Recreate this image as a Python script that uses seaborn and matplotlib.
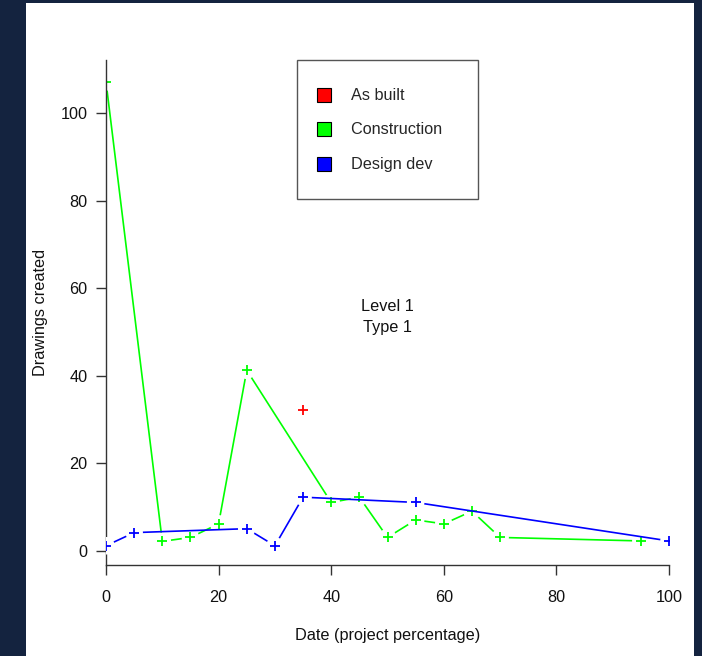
import matplotlib
matplotlib.use("Agg")
import matplotlib.pyplot as plt
import seaborn as sns
from matplotlib.patches import Patch, Rectangle
from matplotlib.legend_handler import HandlerPatch

# ---- data ----
design_x = [0, 5, 25, 30, 35, 55, 100]
design_y = [1.2, 4.2, 5.1, 1.2, 12.3, 11.1, 2.3]

constr_x = [0, 10, 15, 20, 25, 40, 45, 50, 55, 60, 65, 70, 95]
constr_y = [107.2, 2.2, 3.1, 6.2, 41.3, 11.1, 12.3, 3.1, 7.1, 6.2, 9.1, 3.1, 2.3]

built_x = [35]
built_y = [32.3]

series_names = ["As built", "Construction", "Design dev"]
series_colors = ["#ff0000", "#00ff00", "#0000ff"]

x_ticks = [0, 20, 40, 60, 80, 100]
y_ticks = [0, 20, 40, 60, 80, 100]

FS = 11.7

sns.set_style("white")
plt.rcParams["font.family"] = ["Liberation Sans", "DejaVu Sans"]

fig = plt.figure(figsize=(7.02, 6.56), dpi=100)
fig.patch.set_facecolor("#14233f")
fig.patches.append(Rectangle((26 / 702, 0), (694 - 26) / 702, 1 - 3 / 656,
                             transform=fig.transFigure, facecolor="white",
                             edgecolor="none", zorder=-10))

ax = fig.add_axes([106 / 702, 1 - 565 / 656, (669 - 106) / 702, (565 - 60) / 656])
ax.set_facecolor("white")

gap_s = 160
plus_s = 45

def draw_series(xs, ys, color, z, line=True):
    if line:
        sns.lineplot(x=xs, y=ys, color=color, linewidth=1.2, ax=ax,
                     estimator=None, sort=False, zorder=z)
        sns.scatterplot(x=xs, y=ys, marker="o", s=gap_s, color="white",
                        edgecolor="none", linewidth=0, ax=ax, zorder=z + 0.1)
    sns.scatterplot(x=xs, y=ys, marker="+", s=plus_s, color=color,
                    linewidth=1.3, ax=ax, zorder=z + 0.2)

draw_series(constr_x, constr_y, series_colors[1], 2)
draw_series(design_x, design_y, series_colors[2], 3)
draw_series(built_x, built_y, series_colors[0], 4, line=False)

ax.set_xlim(0, 100)
ax.set_ylim(-3.2, 112.2)
ax.set_xticks(x_ticks)
ax.set_yticks(y_ticks)
ax.set_xticklabels([str(t) for t in x_ticks], fontsize=FS)
ax.set_yticklabels([str(t) for t in y_ticks], fontsize=FS)
ax.tick_params(axis="both", direction="out", length=7.2, width=1.0,
               color="#333333", labelcolor="#111111", left=True, bottom=True)
ax.tick_params(axis="x", pad=10.5)
ax.tick_params(axis="y", pad=6)
for side in ["top", "right"]:
    ax.spines[side].set_visible(False)
for side in ["left", "bottom"]:
    ax.spines[side].set_color("#333333")
    ax.spines[side].set_linewidth(1.0)

ax.set_xlabel("Date (project percentage)", fontsize=FS, labelpad=17, color="#111111")
ax.set_ylabel("Drawings created", fontsize=FS, labelpad=9, color="#111111")

ax.text(50, 53.4, "Level 1\nType 1", ha="center", va="center", fontsize=FS,
        linespacing=1.5, color="#111111")

SQ = 14 * 72 / 100  # square side in points

def square_patch(legend, orig_handle, xdescent, ydescent, width, height, fontsize):
    cx = -xdescent + width / 2
    cy = -ydescent + height / 2
    return Rectangle((cx - SQ / 2, cy - SQ / 2), SQ, SQ)

handles = [Patch(facecolor=c, edgecolor="black", linewidth=0.8) for c in series_colors]
labels = [n + "    " for n in series_names]
leg = ax.legend(handles, labels, loc="upper center", bbox_to_anchor=(0.5, 1.0),
                fontsize=FS, frameon=True, fancybox=False, framealpha=1,
                edgecolor="#555555", borderpad=1.09, labelspacing=0.0,
                handlelength=1.14, handleheight=2.89, handletextpad=1.09,
                borderaxespad=0.0,
                handler_map={Patch: HandlerPatch(patch_func=square_patch)})
leg.get_frame().set_linewidth(1.0)
for h in leg.legend_handles:
    h.set_edgecolor("black")

fig.savefig("out.png", dpi=100, facecolor=fig.get_facecolor())
